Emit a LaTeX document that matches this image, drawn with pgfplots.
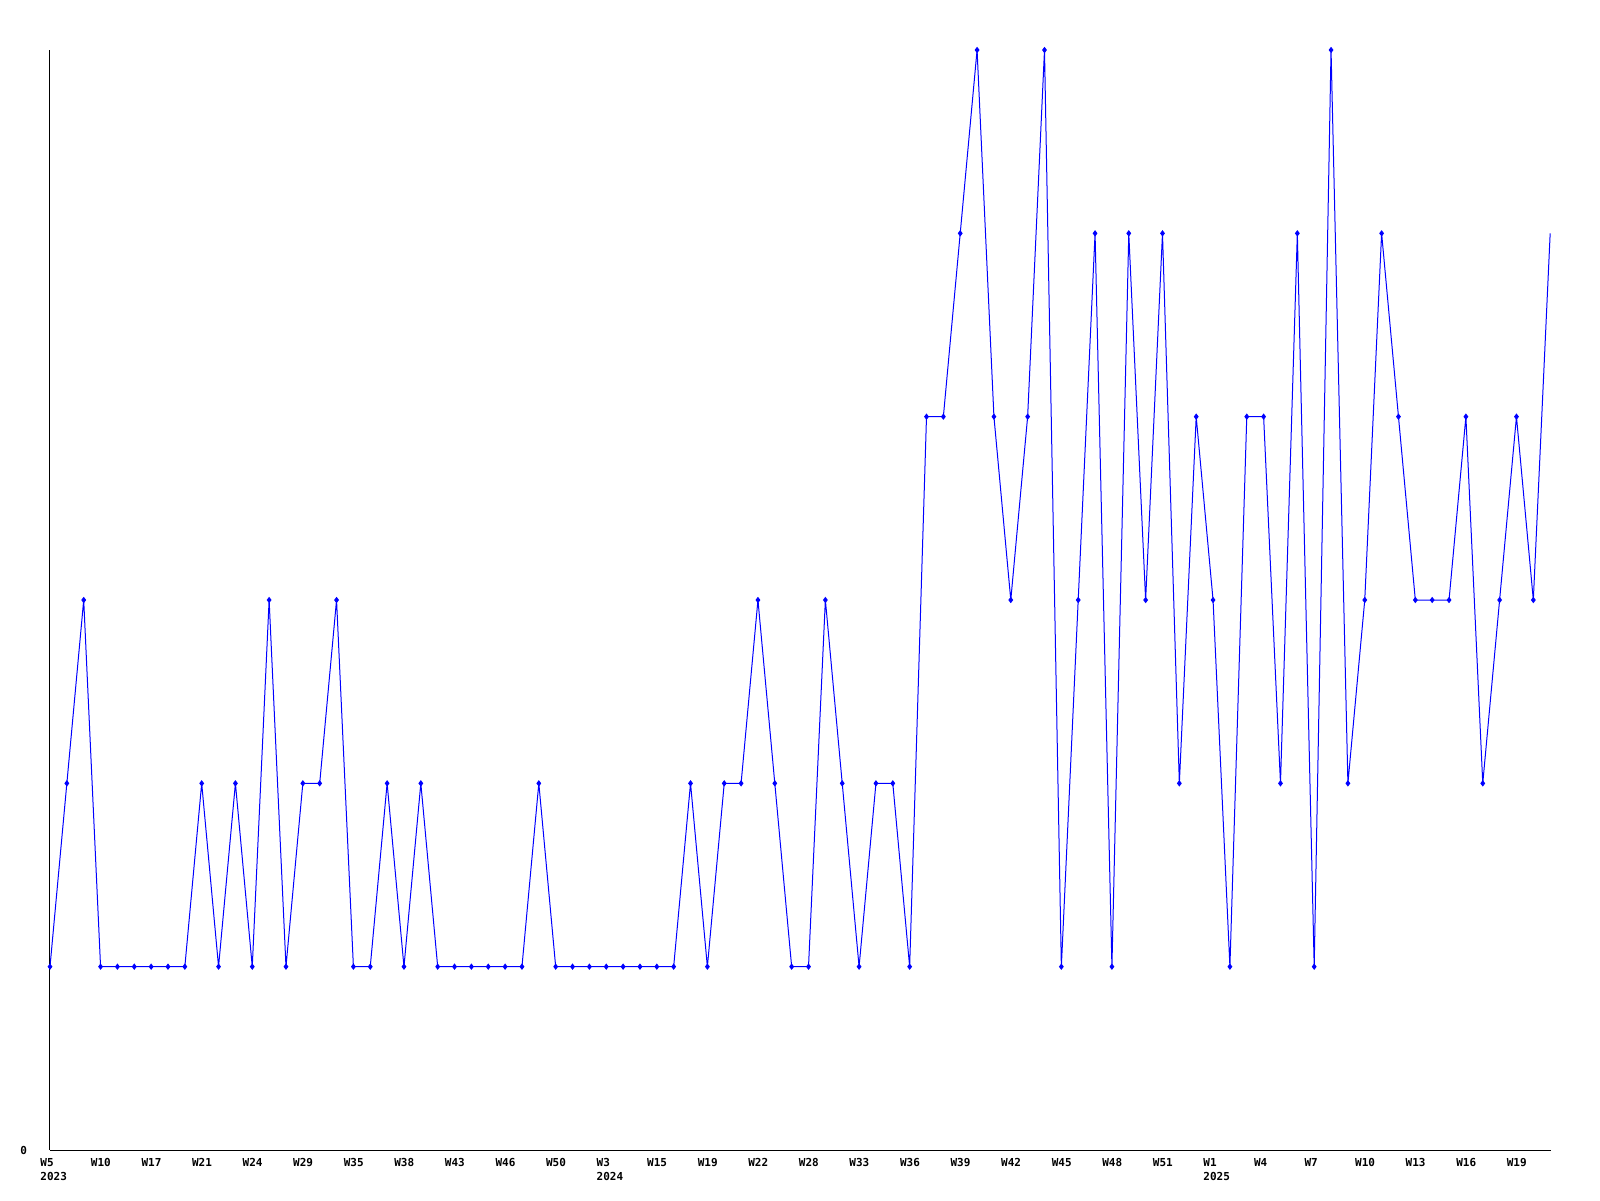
\documentclass[border=0pt]{standalone}
\usepackage{pgfplots}
\pgfplotsset{compat=1.18}
\usepackage{fontspec}
\setmonofont{DejaVu Sans Mono}
\begin{document}
\begin{tikzpicture}
\useasboundingbox (0,0) rectangle (800pt,600pt);
\begin{axis}[
  at={(25pt,25pt)}, anchor=south west,
  scale only axis, width=750.5pt, height=550pt,
  xmin=0, xmax=89.05, ymin=0, ymax=6,
  axis x line*=bottom, axis y line*=left,
  axis line style={line width=0.5pt, black},
  xtick={0,3,...,87},
  xticklabels={W5\\2023,W10,W17,W21,W24,W29,W35,W38,W43,W46,W50,W3\\2024,W15,W19,W22,W28,W33,W36,W39,W42,W45,W48,W51,W1\\2025,W4,W7,W10,W13,W16,W19},
  ytick={0},
  major tick length=0pt,
  tick style={draw=none},
  /pgf/number format/assume math mode=true,
  ticklabel style={font=\ttfamily\bfseries\fontsize{5.5}{7}\selectfont},
  xticklabel style={align=left, anchor=north west, inner xsep=0pt, xshift=-5pt, yshift=-0.5pt},
  yticklabel style={anchor=east, xshift=-8pt},
  clip=false,
]
\addplot[blue, line width=0.5pt, mark=diamond*, mark size=1.2pt, mark indices={1,...,89}, mark options={solid, fill=blue}] coordinates {
(0,1)(1,2)(2,3)(3,1)(4,1)(5,1)(6,1)(7,1)(8,1)(9,2)
(10,1)(11,2)(12,1)(13,3)(14,1)(15,2)(16,2)(17,3)(18,1)(19,1)
(20,2)(21,1)(22,2)(23,1)(24,1)(25,1)(26,1)(27,1)(28,1)(29,2)
(30,1)(31,1)(32,1)(33,1)(34,1)(35,1)(36,1)(37,1)(38,2)(39,1)
(40,2)(41,2)(42,3)(43,2)(44,1)(45,1)(46,3)(47,2)(48,1)(49,2)
(50,2)(51,1)(52,4)(53,4)(54,5)(55,6)(56,4)(57,3)(58,4)(59,6)
(60,1)(61,3)(62,5)(63,1)(64,5)(65,3)(66,5)(67,2)(68,4)(69,3)
(70,1)(71,4)(72,4)(73,2)(74,5)(75,1)(76,6)(77,2)(78,3)(79,5)
(80,4)(81,3)(82,3)(83,3)(84,4)(85,2)(86,3)(87,4)(88,3)(89,5)
};
\end{axis}
\end{tikzpicture}
\end{document}
